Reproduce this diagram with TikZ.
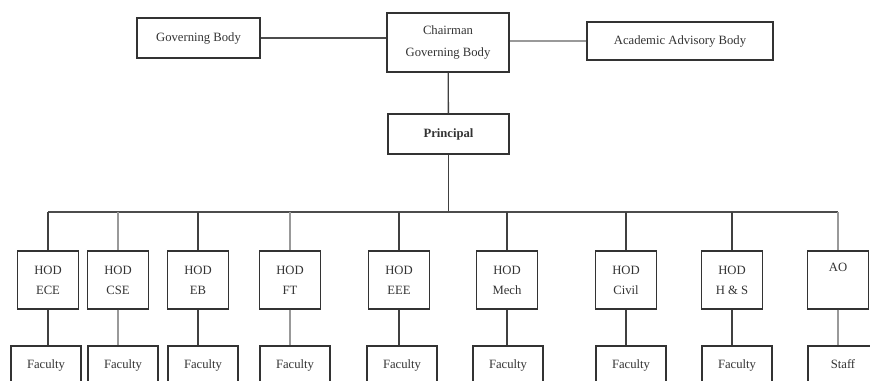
\documentclass[tikz,border=0pt]{standalone}
\usepackage{fontspec}
\setmainfont{Liberation Serif}
\usepackage{tikz}
\usetikzlibrary{positioning}

\begin{document}
\begin{tikzpicture}[
      x=0.75pt, y=-0.75pt,
      box/.style={draw=black!80, line width=1.1pt, fill=white, align=center, inner sep=1pt,
        minimum width=45.75pt, minimum height=43.5pt, font=\fontsize{9.5}{15}\selectfont},
      top/.style={draw=black!80, line width=1.1pt, fill=white, align=center, inner sep=1pt},
      fac/.style={draw=black!80, line width=1.1pt, fill=white, minimum width=52.5pt, minimum height=28.5pt,
        text height=1.6ex, text depth=0.45ex},
      link/.style={draw=black!75, line width=1pt},
      faint/.style={draw=black!40, line width=0.8pt},
      bar/.style={draw=black!70, line width=1.6pt},
      every node/.style={font=\fontsize{9.5}{11.5}\selectfont, text=black!80}
    ]
    \useasboundingbox (0,0) rectangle (870,381);

    % Top nodes
    \node[top, minimum width=92pt, minimum height=30pt] (gov) at (198.5,38) {Governing Body};
    \node[top, minimum width=91.5pt, minimum height=44pt, font=\fontsize{9.5}{17}\selectfont] (chair) at (448,42.5) {Chairman\\Governing Body};
    \node[top, minimum width=139.5pt, minimum height=28.5pt] (acad) at (680,41) {Academic Advisory Body};
    \node[top, minimum width=90.75pt, minimum height=30pt] (princ) at (448.5,134) {\textbf{Principal}};
    \coordinate (bus) at (448.5,212);

    % HOD nodes
    \node[box] (hodece) at (48,280) {HOD\\ECE};
    \node[box] (hodcse) at (118,280) {HOD\\CSE};
    \node[box] (hodeb) at (198,280) {HOD\\EB};
    \node[box] (hodft) at (290,280) {HOD\\FT};
    \node[box] (hodeee) at (399,280) {HOD\\EEE};
    \node[box] (hodmech) at (507,280) {HOD\\Mech};
    \node[box] (hodcivil) at (626,280) {HOD\\Civil};
    \node[box] (hodhs) at (732,280) {HOD\\H \& S};
    \node[box] (ao) at (838,280) {AO\\\strut};

    % Faculty nodes
    \node[fac] (facece) at (46,365) {Faculty};
    \node[fac] (faccse) at (123,365) {Faculty};
    \node[fac] (faceb) at (203,365) {Faculty};
    \node[fac] (facft) at (295,365) {Faculty};
    \node[fac] (faceee) at (402,365) {Faculty};
    \node[fac] (facmech) at (508,365) {Faculty};
    \node[fac] (faccivil) at (631,365) {Faculty};
    \node[fac] (fachs) at (737,365) {Faculty};
    \node[fac] (staff) at (843,365) {Staff};

    % Lines
    \draw[bar] (gov.east) -- (gov.east -| chair.west);
    \draw[faint] (acad.west) -- (acad.west -| chair.east);
    \draw[link] (chair) -- (princ);
    \draw[link] (princ) -- (bus);
    \draw[bar] (hodece.north |- bus) -- (ao.north |- bus);
    \draw[link] (hodece.north |- bus) -- (hodece.north);
    \draw[faint] (hodcse.north |- bus) -- (hodcse.north);
    \draw[link] (hodeb.north |- bus) -- (hodeb.north);
    \draw[faint] (hodft.north |- bus) -- (hodft.north);
    \draw[link] (hodeee.north |- bus) -- (hodeee.north);
    \draw[link] (hodmech.north |- bus) -- (hodmech.north);
    \draw[link] (hodcivil.north |- bus) -- (hodcivil.north);
    \draw[link] (hodhs.north |- bus) -- (hodhs.north);
    \draw[faint] (ao.north |- bus) -- (ao.north);

    \draw[link] (hodece.south) -- (hodece.south |- facece.north);
    \draw[faint] (hodcse.south) -- (hodcse.south |- faccse.north);
    \draw[link] (hodeb.south) -- (hodeb.south |- faceb.north);
    \draw[faint] (hodft.south) -- (hodft.south |- facft.north);
    \draw[link] (hodeee.south) -- (hodeee.south |- faceee.north);
    \draw[link] (hodmech.south) -- (hodmech.south |- facmech.north);
    \draw[link] (hodcivil.south) -- (hodcivil.south |- faccivil.north);
    \draw[link] (hodhs.south) -- (hodhs.south |- fachs.north);
    \draw[faint] (ao.south) -- (ao.south |- staff.north);

    \end{tikzpicture}
\end{document}
